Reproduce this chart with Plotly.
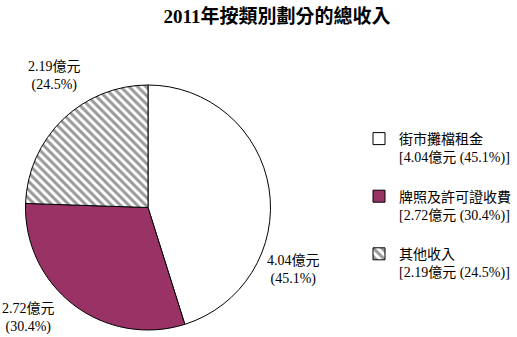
import plotly.graph_objects as go

categories = ["街市攤檔租金", "牌照及許可證收費", "其他收入"]
values = [4.04, 2.72, 2.19]
percents = [45.1, 30.4, 24.5]
colors = ["#ffffff", "#993366", "#ffffff"]
patterns = ["", "", "\\"]

legend_labels = [f"{c}<br>[{v:.2f}億元 ({p:.1f}%)]<br> " for c, v, p in zip(categories, values, percents)]

FONT = "Liberation Serif, Noto Sans CJK TC, serif"

fig = go.Figure()
fig.add_trace(go.Pie(
    labels=legend_labels,
    values=values,
    sort=False,
    direction="clockwise",
    rotation=0,
    textinfo="none",
    hoverinfo="label+value",
    marker=dict(
        colors=colors,
        line=dict(color="#000000", width=1),
        pattern=dict(shape=patterns, fgcolor="#999999", bgcolor="#ffffff", size=6, solidity=0.5),
    ),
    domain=dict(x=[25/517, 271/517], y=[1-330/337, 1-85/337]),
))

# outside labels
label_pos = [(293, 270), (28, 318), (54, 76)]
for (x, y), v, p in zip(label_pos, values, percents):
    fig.add_annotation(
        x=x/517, y=1-y/337, xref="paper", yref="paper",
        text=f"{v:.2f}億元<br>({p:.1f}%)", showarrow=False,
        xanchor="center", yanchor="middle",
        font=dict(family=FONT, size=14, color="#000000"),
    )

fig.update_layout(
    width=517, height=337,
    margin=dict(l=0, r=0, t=0, b=0),
    paper_bgcolor="#ffffff", plot_bgcolor="#ffffff",
    title=dict(text="<b>2011年按類別劃分的總收入</b>", x=277/517, xanchor="center",
               y=1-16/337, yanchor="middle",
               font=dict(family=FONT, size=19, color="#000000")),
    legend=dict(x=359/517, y=1-123/337, xanchor="left", yanchor="top",
                valign="top", font=dict(family=FONT, size=14, color="#000000"),
                bgcolor="rgba(0,0,0,0)", itemclick=False),
    showlegend=True,
)

fig.write_html("out.html")
